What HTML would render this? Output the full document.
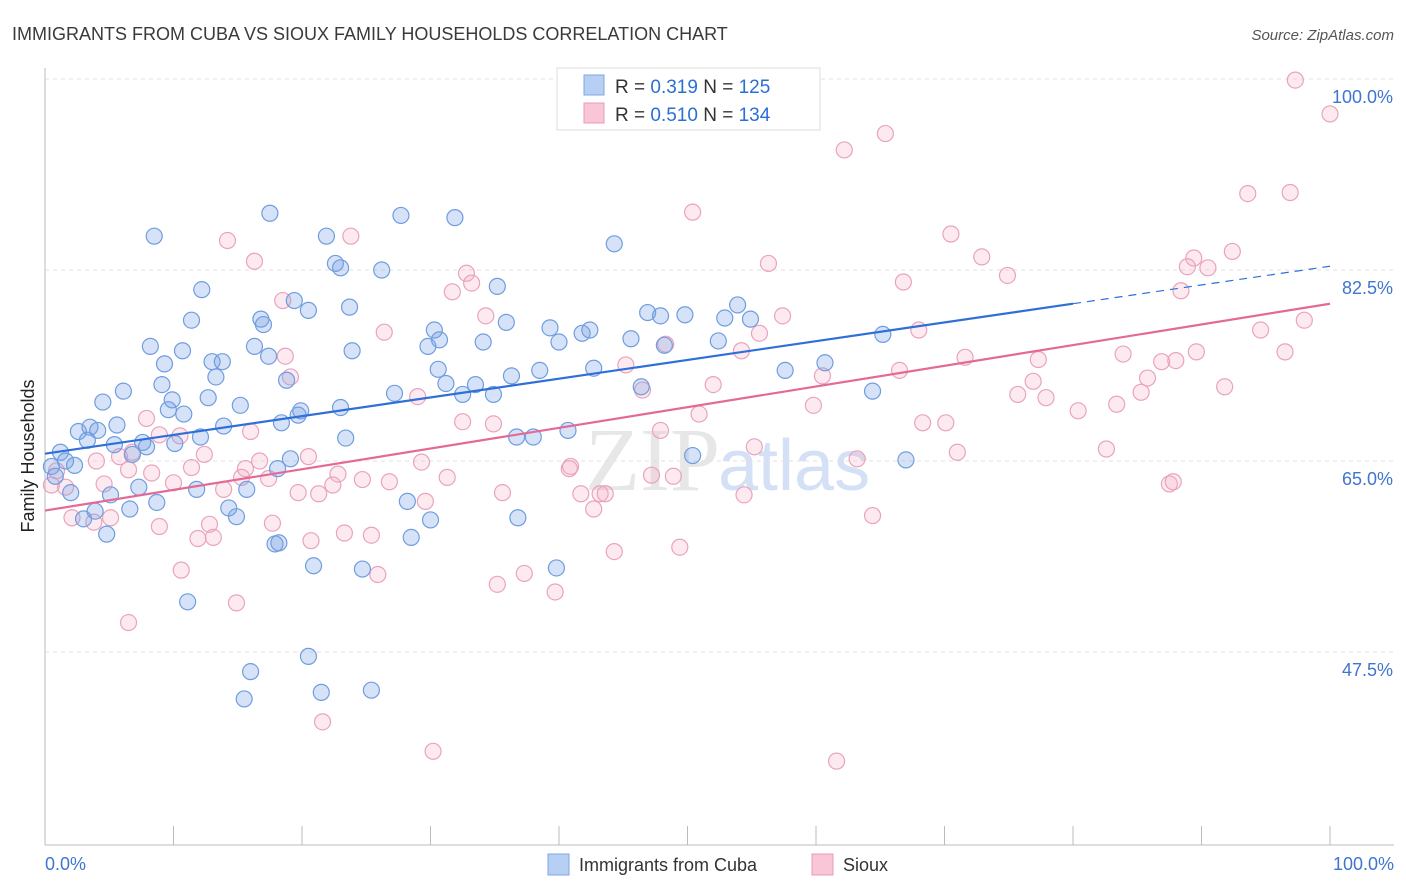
<!DOCTYPE html>
<html><head><meta charset="utf-8">
<style>
body{margin:0;background:#fff;font-family:"Liberation Sans",sans-serif;}
svg{display:block}
</style></head>
<body>
<svg id="chart" width="1406" height="892" xmlns="http://www.w3.org/2000/svg">
<text x="12" y="40" font-size="18" fill="#3a3a3a">IMMIGRANTS FROM CUBA VS SIOUX FAMILY HOUSEHOLDS CORRELATION CHART</text>
<text x="1394" y="40" font-size="15" fill="#555" font-style="italic" text-anchor="end">Source: ZipAtlas.com</text>
<text x="34" y="456" font-size="18" fill="#222" text-anchor="middle" transform="rotate(-90 34 456)">Family Households</text>
<text x="720" y="490" font-size="90" fill="#d8d8d8" font-family="Liberation Serif,serif" text-anchor="end" opacity="0.6">ZIP</text>
<text x="718" y="490" font-size="72" fill="#b8cdef" opacity="0.6">atlas</text>
<g id="grid"></g><g id="axes"></g><g id="lines"></g><g id="pts"></g>
<g>
<rect x="557" y="68" width="263" height="62" fill="#fff" stroke="#ddd"/>
<rect x="584" y="75" width="20" height="20" fill="#b7cff2" stroke="#7ea5e3"/>
<rect x="584" y="103" width="20" height="20" fill="#f8c6d6" stroke="#e89ab4"/>
<text x="615" y="93" font-size="19" fill="#333">R = <tspan fill="#2a6fd6">0.319</tspan>   N = <tspan fill="#2a6fd6">125</tspan></text>
<text x="615" y="121" font-size="19" fill="#333">R = <tspan fill="#2a6fd6">0.510</tspan>   N = <tspan fill="#2a6fd6">134</tspan></text>
</g>
<g>
<rect x="548" y="854" width="21" height="21" fill="#b7cff2" stroke="#7ea5e3"/>
<text x="579" y="871" font-size="18" fill="#333">Immigrants from Cuba</text>
<rect x="812" y="854" width="21" height="21" fill="#f8c6d6" stroke="#e89ab4"/>
<text x="843" y="871" font-size="18" fill="#333">Sioux</text>
</g>
</svg>
<script>
const yTicks=[100,82.5,65,47.5];
const yTickLabels=["100.0%","82.5%","65.0%","47.5%"];
const xTicks=[0,10,20,30,40,50,60,70,80,90,100];
const xEndLabels=["0.0%","100.0%"];
const cubaX=[8.5,17.5,27.7,31.9,21.9,44.3,12.2,22.6,23.0,26.2,35.2,19.4,20.5,23.7,11.4,16.8,17.0,8.2,10.7,9.3,13.0,13.8,16.3,17.4,23.9,30.3,30.7,29.8,34.1,35.9,39.3,40.0,41.8,42.4,45.6,46.9,47.9,49.8,52.9,53.9,54.9,48.2,52.4,57.6,60.7,65.2,64.4,42.7,46.4,36.3,38.5,30.6,31.2,32.5,33.5,34.9,27.2,23.0,19.9,18.8,18.4,13.3,12.7,9.1,9.9,9.6,10.8,15.2,6.1,4.5,3.5,4.1,5.6,2.6,3.3,5.4,7.6,7.9,6.8,1.2,1.6,2.3,0.5,0.8,2.0,5.1,3.9,3.0,4.8,6.6,8.7,7.3,11.8,12.1,10.1,13.9,14.3,14.9,15.7,19.1,18.1,18.2,23.4,28.2,30.0,28.5,24.7,20.9,36.7,40.7,38.0,36.8,39.8,50.4,67.0,11.1,16.0,15.5,20.5,21.5,25.4,17.9,19.7];
const cubaY=[85.6,87.7,87.5,87.3,85.6,84.9,80.7,83.1,82.7,82.5,81.0,79.7,78.8,79.1,77.9,78.0,77.5,75.5,75.1,73.9,74.1,74.1,75.5,74.6,75.1,77.0,76.1,75.5,75.9,77.7,77.2,75.9,76.7,77.0,76.2,78.6,78.3,78.4,78.1,79.3,78.0,75.6,76.0,73.3,74.0,76.6,71.4,73.5,71.8,72.8,73.3,73.4,72.1,71.1,72.0,71.1,71.2,69.9,69.6,72.4,68.5,72.7,70.8,72.0,70.6,69.7,69.3,70.1,71.4,70.4,68.1,67.8,68.3,67.7,66.9,66.5,66.7,66.3,65.6,65.8,65.0,64.6,64.5,63.6,62.1,61.9,60.4,59.7,58.3,60.6,61.2,62.6,62.4,67.2,66.6,68.2,60.7,59.9,62.4,65.2,64.3,57.5,67.1,61.3,59.6,58.0,55.1,55.4,67.2,67.8,67.2,59.8,55.2,65.5,65.1,52.1,45.7,43.2,47.1,43.8,44.0,57.4,69.2];
const siouxX=[97.3,100.0,65.4,62.2,93.6,96.9,50.4,70.5,72.9,74.9,66.8,56.3,89.4,92.4,88.4,88.9,90.5,98.0,94.6,96.5,89.6,86.9,83.9,85.8,88.0,85.3,83.4,80.4,77.3,76.9,77.9,75.7,71.6,68.0,66.5,59.8,60.5,57.4,55.6,54.2,52.0,50.9,46.5,48.3,45.2,47.9,48.9,47.2,41.7,43.2,42.7,40.8,43.6,44.3,49.4,54.4,55.2,63.2,64.4,68.3,70.1,71.0,82.6,87.5,87.8,91.8,61.6,30.2,21.6,14.9,6.5,10.6,8.9,5.1,2.1,3.8,4.6,1.6,0.9,4.0,5.8,6.5,8.3,6.8,7.9,8.9,10.5,10.0,11.4,12.4,13.9,12.8,13.1,11.9,15.6,16.0,15.3,16.7,17.4,17.7,18.7,19.1,18.5,14.2,16.3,23.8,26.4,29.0,32.8,31.7,34.3,33.2,32.5,34.9,29.3,31.3,29.6,26.8,24.7,22.4,22.8,21.3,19.7,20.5,20.7,23.3,25.4,25.9,35.2,37.3,35.6,39.7,40.9,0.5];
const siouxY=[99.9,96.8,95.0,93.5,89.5,89.6,87.8,85.8,83.7,82.0,81.4,83.1,83.6,84.2,80.6,82.8,82.7,77.9,77.0,75.0,75.0,74.1,74.8,72.6,74.2,71.3,70.2,69.6,74.3,72.3,70.8,71.1,74.5,77.0,73.3,70.1,72.8,78.3,76.7,75.1,72.0,69.3,71.5,75.7,73.8,67.8,63.6,63.7,62.0,62.0,60.6,64.3,62.0,56.7,57.1,61.9,66.3,65.2,60.0,68.5,68.5,65.8,66.1,62.9,63.1,71.8,37.5,38.4,41.1,52.0,50.2,55.0,59.0,59.8,59.8,59.4,62.9,62.6,64.1,65.0,65.4,64.2,63.9,65.8,68.9,67.4,67.3,63.0,64.4,65.6,62.4,59.2,58.0,57.9,64.3,67.7,63.5,65.0,63.4,59.3,74.6,72.7,79.7,85.2,83.3,85.6,76.8,70.9,82.2,80.5,78.3,81.3,68.6,68.4,64.9,63.5,61.3,63.1,63.3,62.8,63.8,62.0,62.1,65.4,57.7,58.4,58.2,54.6,53.7,54.7,62.1,53.0,64.5,62.8];
const X0=45,X1=1330,YB=845;
const sx=v=>X0+(X1-X0)*v/100;
const sy=v=>79+(100-v)*(652-79)/52.5;
const NS="http://www.w3.org/2000/svg";
function mk(p,tag,at){const e=document.createElementNS(NS,tag);for(const k in at)e.setAttribute(k,at[k]);p.appendChild(e);return e;}
const grid=document.getElementById('grid'),axes=document.getElementById('axes'),lines=document.getElementById('lines'),pts=document.getElementById('pts');
yTicks.forEach((t,i)=>{
 const g=mk(grid,'line',{x1:X0,x2:1394,y1:sy(t),y2:sy(t),stroke:'#e2e2e2','stroke-dasharray':'4,4'});
 
 
 const l=mk(axes,'text',{x:1393,y:sy(t)+24,'font-size':18,fill:'#3f75d0','text-anchor':'end'});
 l.textContent=yTickLabels[i];
 
 
});
const ax=mk(axes,'line',{x1:X0,x2:1394,y1:YB,y2:YB,stroke:'#bbb'});


const ay=mk(axes,'line',{x1:X0,x2:X0,y1:68,y2:YB,stroke:'#bbb'});


xTicks.forEach(t=>{
 const k=mk(axes,'line',{x1:sx(t),x2:sx(t),y1:826,y2:YB,stroke:'#bbb'});
 
 
});
const l0=mk(axes,'text',{x:45,y:870,'font-size':18,fill:'#3f75d0'});l0.textContent=xEndLabels[0];


const l1=mk(axes,'text',{x:1394,y:870,'font-size':18,fill:'#3f75d0','text-anchor':'end'});l1.textContent=xEndLabels[1];


function fit(xs,ys){const n=xs.length;let mx=0,my=0;for(let i=0;i<n;i++){mx+=xs[i];my+=ys[i];}mx/=n;my/=n;let a=0,b=0;for(let i=0;i<n;i++){a+=(xs[i]-mx)*(ys[i]-my);b+=(xs[i]-mx)**2;}const s=a/b;return [s,my-s*mx];}
const fc=fit(cubaX,cubaY),fs=fit(siouxX,siouxY);
function drawPts(xs,ys,fill,stroke,name){xs.forEach((x,i)=>{const c=mk(pts,'circle',{cx:sx(x),cy:sy(ys[i]),r:8,fill:fill,stroke:stroke,'stroke-width':1.2});
 
 });}
drawPts(siouxX,siouxY,'rgba(244,170,196,0.25)','#eaa3bd','sioux-point');
drawPts(cubaX,cubaY,'rgba(120,160,230,0.3)','#6f9de0','cuba-point');
const tc=mk(lines,'line',{x1:sx(0),y1:sy(fc[1]),x2:sx(80),y2:sy(fc[1]+fc[0]*80),stroke:'#2f6fd8','stroke-width':2.2});


const td=mk(lines,'line',{x1:sx(80),y1:sy(fc[1]+fc[0]*80),x2:sx(100),y2:sy(fc[1]+fc[0]*100),stroke:'#2f6fd8','stroke-width':1.2,'stroke-dasharray':'8,6'});


const ts=mk(lines,'line',{x1:sx(0),y1:sy(fs[1]),x2:sx(100),y2:sy(fs[1]+fs[0]*100),stroke:'#e46a96','stroke-width':2.2});


document.getElementById('chart').appendChild(lines);
</script>
</body></html>
